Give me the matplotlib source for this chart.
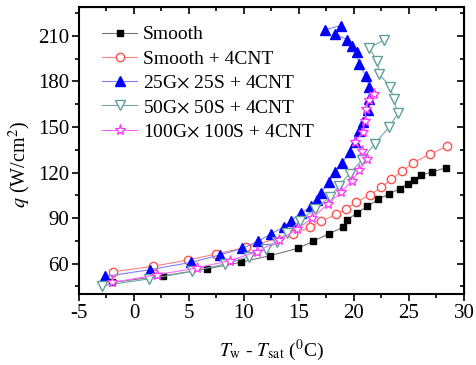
import matplotlib
matplotlib.use('Agg')
import matplotlib.pyplot as plt
from matplotlib.ticker import MultipleLocator

plt.rcParams['font.family'] = 'Liberation Serif'
plt.rcParams['mathtext.fontset'] = 'stix'
plt.rcParams['axes.unicode_minus'] = False

labels = ['Smooth', 'Smooth + 4CNT', r'25G$\times$ 25S + 4CNT',
          r'50G$\times$ 50S + 4CNT', r'100G$\times$ 100S + 4CNT']

smooth_x = [-1.97, 2.67, 6.6, 9.7, 12.4, 14.9, 16.3, 17.7, 19.0, 19.4, 20.3,
            21.2, 22.2, 23.2, 24.2, 24.9, 25.5, 26.1, 27.1, 28.4]
smooth_y = [47.6, 52.0, 56.5, 60.9, 65.3, 70.1, 74.8, 79.6, 84.0, 88.9, 93.5,
            97.7, 102.3, 106.0, 109.4, 112.7, 115.3, 118.2, 120.4, 123.2]

cnt_x = [-1.9, 1.7, 4.9, 7.5, 10.2, 14.5, 16.0, 17.0, 18.4, 19.3, 20.2,
         21.5, 22.5, 23.4, 24.4, 25.4, 26.9, 28.5]
cnt_y = [54.7, 58.2, 62.4, 66.4, 70.8, 79.6, 84.0, 88.0, 92.4, 96.1, 100.5,
         105.4, 110.4, 115.5, 121.0, 126.6, 132.0, 137.5]

g25_x = [-2.6, 1.45, 5.2, 7.8, 9.85, 11.3, 12.45, 13.6, 14.3, 15.2, 16.1,
         16.6, 17.0, 17.7, 18.3, 18.9, 19.6, 20.1, 20.5, 20.8, 21.3, 21.4,
         21.4, 21.1, 20.45, 20.25, 19.85, 19.39, 18.27, 18.79, 17.36]
g25_y = [51.6, 56.0, 60.9, 65.7, 70.1, 74.8, 79.6, 84.0, 88.4, 93.3, 97.7,
         102.0, 106.5, 113.8, 120.4, 126.3, 133.6, 140.2, 147.5, 153.4, 161.1,
         168.5, 176.0, 183.6, 191.3, 199.7, 203.4, 207.4, 211.2, 216.8, 214.0]

g50_x = [-2.95, 1.36, 5.3, 8.3, 10.5, 12.0, 13.0, 13.9, 15.1, 16.5, 17.8,
         18.6, 19.6, 20.7, 21.9, 23.2, 24.0, 23.6, 23.3, 22.3, 22.1, 21.4, 22.7]
g50_y = [45.5, 49.9, 54.9, 59.8, 64.6, 69.5, 74.0, 80.0, 88.4, 96.1, 103.8,
         110.9, 119.3, 128.0, 139.1, 150.1, 158.9, 168.4, 176.5, 184.7, 193.5,
         201.9, 207.4]

g100_x = [-1.97, 2.1, 5.7, 8.7, 11.2, 13.2, 14.8, 16.2, 17.6, 18.8, 19.8,
          20.5, 21.2, 20.7, 20.1, 20.8, 21.0, 21.1, 21.4, 21.8]
g100_y = [47.6, 52.7, 57.1, 62.0, 67.9, 75.5, 82.5, 90.0, 99.0, 107.0, 114.5,
          121.5, 129.0, 134.0, 140.0, 147.0, 154.0, 162.0, 168.0, 171.5]

fig = plt.figure(figsize=(4.77, 3.65), dpi=100)
ax = fig.add_axes([0.1656, 0.1945, 0.8071, 0.7863])

ax.plot(smooth_x, smooth_y, color='#777777', lw=0.8, marker='s', ms=5,
        mfc='black', mec='black', label=labels[0])
ax.plot(cnt_x, cnt_y, color='#FF8080', lw=0.8, marker='o', ms=6,
        mfc='white', mec='#FF5050', label=labels[1])
ax.plot(g25_x, g25_y, color='#8080FF', lw=0.8, marker='^', ms=6.5,
        mfc='#0000FF', mec='#0000FF', label=labels[2])
ax.plot(g50_x, g50_y, color='#70AAA2', lw=0.8, marker='v', ms=7,
        mfc='white', mec='#5FA098', label=labels[3])
ax.plot(g100_x, g100_y, color='#FF66FF', lw=0.8, marker='*', ms=8,
        mfc='white', mec='#FF33FF', mew=0.9, label=labels[4])

ax.set_xlim(-5, 30)
ax.set_ylim(40, 229)
ax.xaxis.set_major_locator(MultipleLocator(5))
ax.xaxis.set_minor_locator(MultipleLocator(2.5))
ax.yaxis.set_major_locator(MultipleLocator(30))
ax.set_yticks([45, 75, 105, 135, 165, 195, 225], minor=True)
ax.tick_params(which='both', direction='out', labelsize=15, width=1.2)
ax.tick_params(which='major', length=5, pad=2)
ax.tick_params(which='minor', length=3)
for s in ax.spines.values():
    s.set_linewidth(1.5)

top = ax.secondary_xaxis('top')
top.xaxis.set_major_locator(MultipleLocator(5))
top.xaxis.set_minor_locator(MultipleLocator(2.5))
top.tick_params(which='both', direction='in', labeltop=False, width=1.2)
top.tick_params(which='major', length=5)
top.tick_params(which='minor', length=3)
right = ax.secondary_yaxis('right')
right.yaxis.set_major_locator(MultipleLocator(30))
right.set_yticks([45, 75, 105, 135, 165, 195, 225], minor=True)
right.tick_params(which='both', direction='in', labelright=False, width=1.2)
right.tick_params(which='major', length=5)
right.tick_params(which='minor', length=3)

ax.set_xlabel(r'$T_{\rm w}$ - $T_{\rm sat}$ ($^{0}$C)', fontsize=14, labelpad=11)
ax.set_ylabel(r'$q$ (W/cm$^{2}$)', fontsize=14.5)
ax.yaxis.set_label_coords(-0.12, 0.45)

ax.legend(loc='upper left', frameon=False, fontsize=14, handlelength=1.8,
          handletextpad=0.3, labelspacing=0.34, borderaxespad=0.2,
          bbox_to_anchor=(0.03, 0.975))

fig.savefig('out.png', dpi=100)
